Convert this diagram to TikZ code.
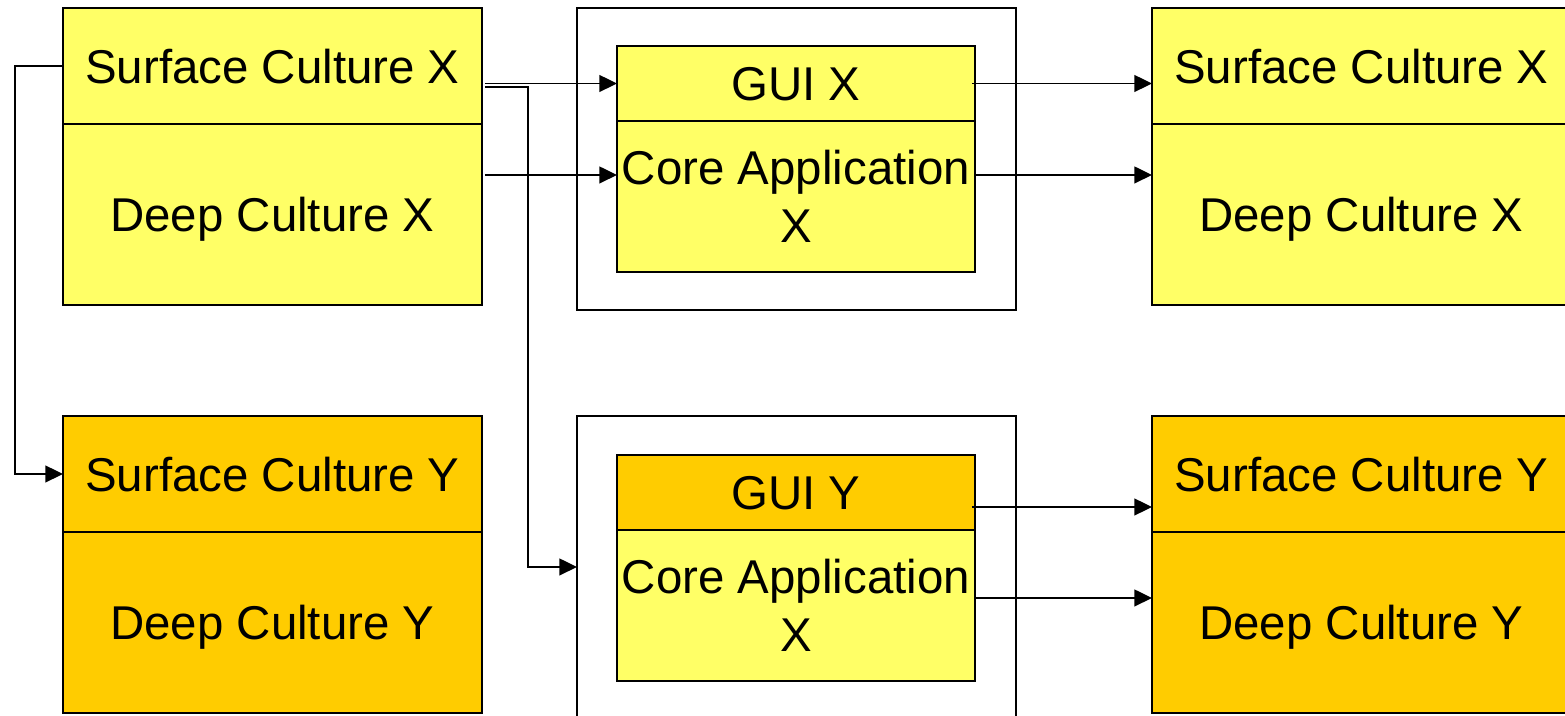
\documentclass[tikz,border=0pt]{standalone}
\usepackage{fontspec}
\setmainfont{Liberation Sans}
\usetikzlibrary{positioning,calc,arrows.meta}
\definecolor{paleyellow}{HTML}{FFFF66}
\definecolor{gold}{HTML}{FFCC00}
\tikzstyle{layer}=[draw=black,line width=1.1pt,rectangle,inner sep=0pt,outer sep=0pt,minimum width=8.38cm,text depth=0pt,align=center,font=\fontsize{27}{33}\selectfont]
\tikzstyle{applayer}=[layer,minimum width=7.16cm]
\tikzstyle{frame}=[draw=black,line width=1.1pt,fill=white,rectangle,inner sep=0pt,outer sep=0pt,minimum width=8.78cm,minimum height=6.04cm]
\tikzstyle{link}=[line width=1.1pt,-{Triangle[length=10pt,width=9.5pt]}]

\begin{document}
\begin{tikzpicture}[x=0.02cm,y=-0.02cm]

      % units are pixels of the original slide, y grows downwards
      \useasboundingbox (0,0) rectangle (1565,716);
      \clip (0,0) rectangle (1565,716);

      % source culture (left column)
      \node[layer,fill=paleyellow,minimum height=2.32cm,anchor=north west] at (63,8) (lsx) {Surface Culture X};
      \node[layer,fill=paleyellow,minimum height=3.62cm,below=0pt of lsx] (ldx) {Deep Culture X};
      \node[layer,fill=gold,minimum height=2.32cm,anchor=north west] at (63,416) (lsy) {Surface Culture Y};
      \node[layer,fill=gold,minimum height=3.62cm,below=0pt of lsy] (ldy) {Deep Culture Y};

      % applications (middle column)
      \node[frame,anchor=north west] at (577,8) (ox) {};
      \node[applayer,fill=paleyellow,minimum height=1.5cm,anchor=north west] at (617,46) (gx) {GUI X};
      \node[applayer,fill=paleyellow,minimum height=3.02cm,below=0pt of gx] (cx) {Core Application\\X};
      \node[frame,anchor=north west] at (577,416) (oy) {};
      \node[applayer,fill=gold,minimum height=1.5cm,anchor=north west] at (617,455) (gy) {GUI Y};
      \node[applayer,fill=paleyellow,minimum height=3.02cm,below=0pt of gy] (cy) {Core Application\\X};

      % target culture (right column)
      \node[layer,fill=paleyellow,minimum height=2.32cm,anchor=north west] at (1152,8) (rsx) {Surface Culture X};
      \node[layer,fill=paleyellow,minimum height=3.62cm,below=0pt of rsx] (rdx) {Deep Culture X};
      \node[layer,fill=gold,minimum height=2.32cm,anchor=north west] at (1152,416) (rsy) {Surface Culture Y};
      \node[layer,fill=gold,minimum height=3.62cm,below=0pt of rsy] (rdy) {Deep Culture Y};

      % connections out of culture X
      \draw[link] (lsx.west) -- ++(-48,0) |- (lsy.west);
      \draw[link] ($(gx.west -| lsx.east)+(3,0)$) -- (gx.west);
      \draw[link] ($(lsx.east)+(3,21)$) -| ($(oy.west)+(-49,0)$) -- (oy.west);
      \draw[link] ($(cx.west -| lsx.east)+(3,-21.5)$) -- ($(cx.west)+(0,-21.5)$);

      % connections into the target cultures
      \draw[link] ($(gx.east)+(-3,0)$) -- (gx.east -| rsx.west);
      \draw[link] ($(cx.east)+(0,-21.5)$) -- ($(cx.east -| rdx.west)+(0,-21.5)$);
      \draw[link] ($(gy.east)+(-3,14.5)$) -- ($(gy.east -| rsy.west)+(0,14.5)$);
      \draw[link] ($(cy.east)+(0,-7.5)$) -- ($(cy.east -| rdy.west)+(0,-7.5)$);

   \end{tikzpicture}
\end{document}
